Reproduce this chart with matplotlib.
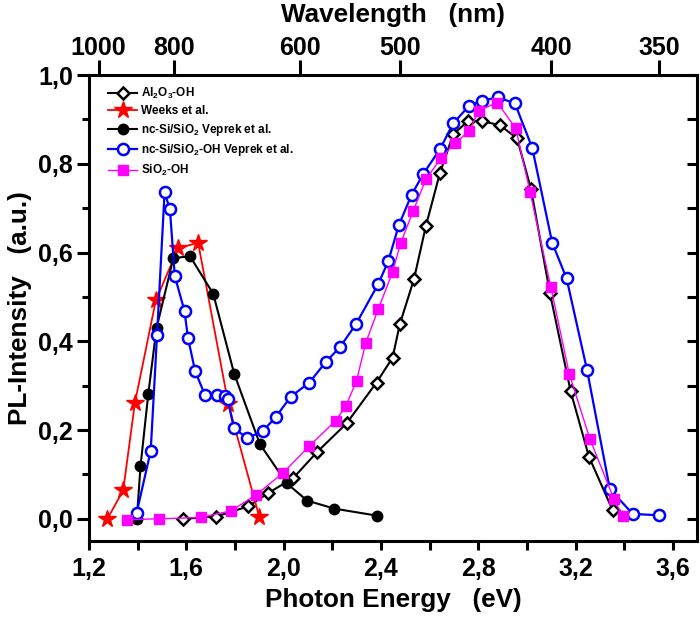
import numpy as np
import matplotlib
matplotlib.use("Agg")
import matplotlib.pyplot as plt
from matplotlib.ticker import MultipleLocator, FuncFormatter

# ---------------- data ----------------
al2o3_E = [1.588, 1.722, 1.855, 1.937, 2.040, 2.137, 2.259, 2.382, 2.448, 2.478, 2.536,
           2.585, 2.643, 2.697, 2.759, 2.817, 2.889, 2.960, 3.017, 3.095, 3.180, 3.255, 3.352]
al2o3_I = [0.000, 0.005, 0.028, 0.058, 0.092, 0.150, 0.215, 0.307, 0.363, 0.439, 0.540,
           0.660, 0.780, 0.866, 0.897, 0.896, 0.887, 0.857, 0.743, 0.508, 0.287, 0.140, 0.020]

weeks_E = [1.275, 1.341, 1.389, 1.475, 1.567, 1.649, 1.773, 1.900]
weeks_I = [-0.001, 0.064, 0.261, 0.492, 0.610, 0.622, 0.259, 0.005]

vep_E = [1.397, 1.412, 1.444, 1.478, 1.547, 1.615, 1.711, 1.797, 1.903, 2.013, 2.097, 2.208, 2.385]
vep_I = [0.000, 0.118, 0.281, 0.430, 0.587, 0.592, 0.507, 0.327, 0.168, 0.080, 0.041, 0.023, 0.007]

vepoh_E = [1.396, 1.454, 1.480, 1.511, 1.533, 1.553, 1.593, 1.607, 1.637, 1.677, 1.725, 1.759,
           1.770, 1.796, 1.851, 1.914, 1.969, 2.029, 2.106, 2.173, 2.232, 2.297, 2.389, 2.430,
           2.474, 2.526, 2.574, 2.643, 2.697, 2.763, 2.817, 2.880, 2.951, 3.022, 3.104, 3.163,
           3.247, 3.341, 3.435, 3.541]
vepoh_I = [0.013, 0.153, 0.414, 0.736, 0.697, 0.547, 0.468, 0.408, 0.332, 0.279, 0.279, 0.277,
           0.270, 0.204, 0.182, 0.197, 0.230, 0.275, 0.307, 0.353, 0.387, 0.438, 0.529, 0.580,
           0.662, 0.730, 0.777, 0.833, 0.891, 0.931, 0.942, 0.950, 0.936, 0.836, 0.622, 0.542,
           0.336, 0.067, 0.011, 0.008]

sio2_E = [1.357, 1.489, 1.660, 1.784, 1.885, 1.999, 2.104, 2.214, 2.256, 2.300, 2.338, 2.389,
          2.448, 2.481, 2.533, 2.585, 2.646, 2.704, 2.763, 2.803, 2.878, 2.954, 3.013, 3.098,
          3.174, 3.259, 3.358, 3.393]
sio2_I = [-0.002, 0.000, 0.003, 0.018, 0.053, 0.104, 0.163, 0.221, 0.254, 0.311, 0.397, 0.472,
          0.556, 0.621, 0.694, 0.765, 0.812, 0.846, 0.874, 0.920, 0.938, 0.880, 0.737, 0.523,
          0.327, 0.180, 0.044, 0.007]

wl_ticks = [1000, 800, 600, 500, 400, 350]

labels = [r"Al$_2$O$_3$-OH", "Weeks et al.", r"nc-Si/SiO$_2$ Veprek et al.",
          r"nc-Si/SiO$_2$-OH Veprek et al.", r"SiO$_2$-OH"]

# ---------------- style ----------------
plt.rcParams['mathtext.fontset'] = 'custom'
plt.rcParams['mathtext.rm'] = 'Liberation Sans:bold'
plt.rcParams['mathtext.it'] = 'Liberation Sans:bold'
plt.rcParams['mathtext.bf'] = 'Liberation Sans:bold'
plt.rcParams['mathtext.default'] = 'rm'

FONT = ['Liberation Sans', 'DejaVu Sans']
TICKFS = 18
LABFS = 18.8

fig = plt.figure(figsize=(7.0, 6.17), dpi=100)
ax = fig.add_axes([0.127, 0.1232, 0.869, 0.7552])

lw_sp = 2.2
for s in ax.spines.values():
    s.set_linewidth(lw_sp)

ax.plot(al2o3_E, al2o3_I, color='black', lw=1.5, marker='D', ms=6.0, mfc='white',
        mec='black', mew=1.8, label=labels[0], zorder=3)
ax.plot(weeks_E, weeks_I, color='red', lw=1.3, marker='*', ms=13, mfc='red',
        mec='red', label=labels[1], zorder=4)
ax.plot(vep_E, vep_I, color='black', lw=1.5, marker='o', ms=7.5, mfc='black',
        mec='black', label=labels[2], zorder=5)
ax.plot(vepoh_E, vepoh_I, color='#0000FF', lw=1.6, marker='o', ms=8, mfc='white',
        mec='#0000FF', mew=1.8, label=labels[3], zorder=6)
ax.plot(sio2_E, sio2_I, color='#FF00FF', lw=1.0, marker='s', ms=7, mfc='#FF00FF',
        mec='#FF00FF', label=labels[4], zorder=7)

ax.set_xlim(1.2, 3.7)
ax.set_ylim(-0.05, 1.0)

comma = FuncFormatter(lambda v, p: f"{v:.1f}".replace('.', ','))
ax.xaxis.set_major_locator(MultipleLocator(0.4))
ax.xaxis.set_minor_locator(MultipleLocator(0.2))
ax.yaxis.set_major_locator(MultipleLocator(0.2))
ax.yaxis.set_minor_locator(MultipleLocator(0.1))
ax.xaxis.set_major_formatter(comma)
ax.yaxis.set_major_formatter(comma)

ax.tick_params(axis='x', which='both', direction='out', length=6.5, width=lw_sp,
               top=False, pad=5)
ax.tick_params(axis='y', which='major', direction='out', length=8.5, width=lw_sp,
               right=False, pad=3)
ax.tick_params(axis='y', which='minor', direction='out', length=5, width=lw_sp, right=False)

for t in ax.get_xticklabels() + ax.get_yticklabels():
    t.set_fontfamily(FONT)
    t.set_fontweight('bold')
    t.set_fontsize(TICKFS)

ax.set_xlabel("Photon Energy   (eV)", family=FONT, weight='bold', fontsize=LABFS, labelpad=5)
ax.set_ylabel("PL-Intensity   (a.u.)", family=FONT, weight='bold', fontsize=LABFS, labelpad=4)

# right axis ticks (inward, no labels)
axr = ax.twinx()
axr.set_ylim(ax.get_ylim())
axr.yaxis.set_major_locator(MultipleLocator(0.1))
axr.tick_params(axis='y', direction='in', length=7, width=lw_sp, labelright=False)
for s in axr.spines.values():
    s.set_visible(False)

# top wavelength axis
axt = ax.twiny()
axt.set_xlim(ax.get_xlim())
wl = np.array(wl_ticks, dtype=float)
axt.set_xticks(1240.0 / wl)
axt.set_xticklabels([str(w) for w in wl_ticks])
axt.tick_params(axis='x', direction='out', length=11, width=lw_sp, pad=0)
for t in axt.get_xticklabels():
    t.set_fontfamily(FONT)
    t.set_fontweight('bold')
    t.set_fontsize(TICKFS)
axt.set_xlabel("Wavelength   (nm)", family=FONT, weight='bold', fontsize=LABFS, labelpad=10)
for s in axt.spines.values():
    s.set_visible(False)

leg = ax.legend(loc='upper left', bbox_to_anchor=(0.031, 0.977), frameon=False,
                prop={'family': FONT, 'weight': 'bold', 'size': 8.5},
                handlelength=2.5, handletextpad=0.3, labelspacing=0.38,
                borderpad=0, borderaxespad=0, markerscale=1.0)

fig.savefig("out.png", dpi=100)
